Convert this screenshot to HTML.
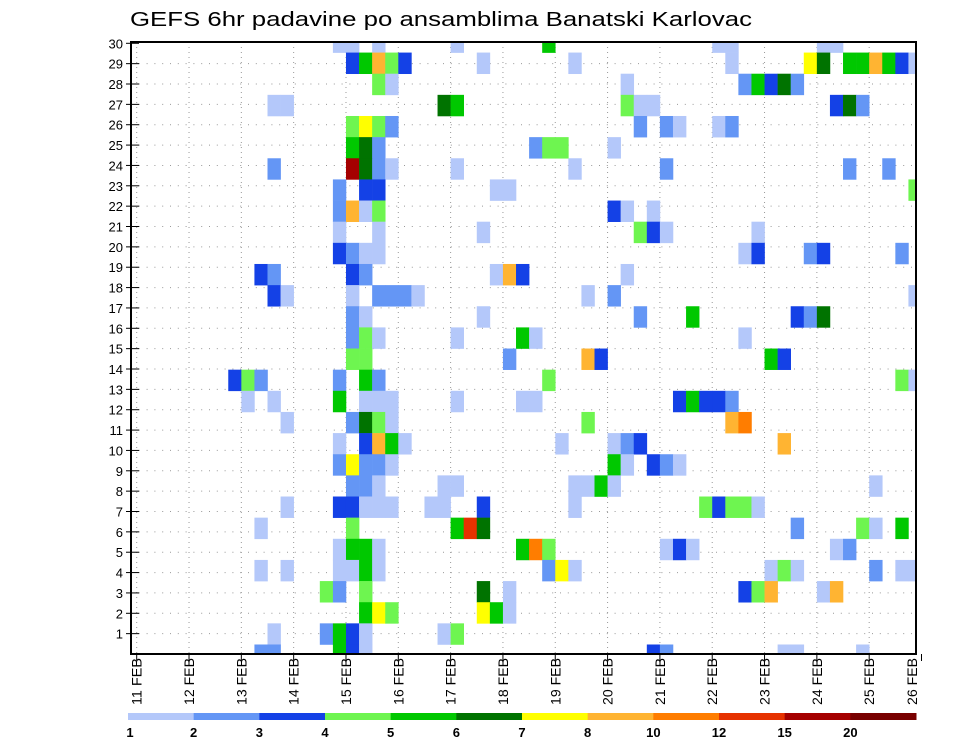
<!DOCTYPE html>
<html><head><meta charset="utf-8"><title>GEFS 6hr padavine</title>
<style>html,body{margin:0;padding:0;background:#fff;}svg{display:block;font-family:"Liberation Sans",sans-serif;}</style>
</head><body>
<svg id="chart" width="960" height="742" viewBox="0 0 960 742">
<rect x="0" y="0" width="960" height="742" fill="#fff"/>
<text x="130" y="26" font-size="20" textLength="622" lengthAdjust="spacingAndGlyphs" fill="#000">GEFS 6hr padavine po ansamblima Banatski Karlovac</text>
<defs><clipPath id="plotClip"><rect x="131" y="42" width="785" height="612"/></clipPath></defs>
<g id="grid"></g>
<g id="cells" clip-path="url(#plotClip)"></g>
<g id="axes"></g>
<g id="colorbar"></g>
</svg>
<script>
// ---- data ----
const dayLabels = ["11 FEB","12 FEB","13 FEB","14 FEB","15 FEB","16 FEB","17 FEB","18 FEB","19 FEB","20 FEB","21 FEB","22 FEB","23 FEB","24 FEB","25 FEB","26 FEB"];
const memberTicks = [1,2,3,4,5,6,7,8,9,10,11,12,13,14,15,16,17,18,19,20,21,22,23,24,25,26,27,28,29,30];
const levelBounds = [1,2,3,4,5,6,7,8,10,12,15,20];
const levelLabels = ["1","2","3","4","5","6","7","8","10","12","15","20"];
const levelColors = ["#b4c8fa","#6496f5","#1441e6","#6ef550","#00c800","#007300","#ffff00","#ffb432","#ff7d00","#e63200","#a50000","#780000"];
// [6h step from 11 FEB 00z, member, precipitation mm]
const precipCells = [
[15,30,1.5],[16,30,1.5],[18,30,1.5],[24,30,1.5],[31,30,5.5],[44,30,1.5],[45,30,1.5],[52,30,1.5],[53,30,1.5],
[16,29,3.5],[17,29,5.5],[18,29,9],[19,29,4.5],[20,29,3.5],[26,29,1.5],[33,29,1.5],[45,29,1.5],[51,29,7.5],[52,29,6.5],[54,29,5.5],[55,29,5.5],[56,29,9],[57,29,5.5],[58,29,3.5],[59,29,1.5],
[18,28,4.5],[19,28,1.5],[37,28,1.5],[46,28,2.5],[47,28,5.5],[48,28,3.5],[49,28,6.5],[50,28,2.5],
[10,27,1.5],[11,27,1.5],[23,27,6.5],[24,27,5.5],[37,27,4.5],[38,27,1.5],[39,27,1.5],[53,27,3.5],[54,27,6.5],[55,27,2.5],
[16,26,4.5],[17,26,7.5],[18,26,4.5],[19,26,2.5],[38,26,2.5],[40,26,2.5],[41,26,1.5],[44,26,1.5],[45,26,2.5],
[16,25,5.5],[17,25,6.5],[18,25,2.5],[30,25,2.5],[31,25,4.5],[32,25,4.5],[36,25,1.5],
[10,24,2.5],[16,24,17],[17,24,6.5],[18,24,2.5],[19,24,1.5],[24,24,1.5],[33,24,1.5],[40,24,2.5],[54,24,2.5],[57,24,2.5],
[15,23,2.5],[17,23,3.5],[18,23,3.5],[27,23,1.5],[28,23,1.5],[59,23,4.5],
[15,22,2.5],[16,22,9],[17,22,1.5],[18,22,4.5],[36,22,3.5],[37,22,1.5],[39,22,1.5],
[15,21,1.5],[18,21,1.5],[26,21,1.5],[38,21,4.5],[39,21,3.5],[40,21,1.5],[47,21,1.5],
[15,20,3.5],[16,20,2.5],[17,20,1.5],[18,20,1.5],[46,20,1.5],[47,20,3.5],[51,20,2.5],[52,20,3.5],[58,20,2.5],
[9,19,3.5],[10,19,2.5],[16,19,3.5],[17,19,2.5],[27,19,1.5],[28,19,9],[29,19,3.5],[37,19,1.5],
[10,18,3.5],[11,18,1.5],[16,18,1.5],[18,18,2.5],[19,18,2.5],[20,18,2.5],[21,18,1.5],[34,18,1.5],[36,18,2.5],[59,18,1.5],
[16,17,2.5],[17,17,1.5],[26,17,1.5],[38,17,2.5],[42,17,5.5],[50,17,3.5],[51,17,2.5],[52,17,6.5],
[16,16,2.5],[17,16,4.5],[18,16,1.5],[24,16,1.5],[29,16,5.5],[30,16,1.5],[46,16,1.5],
[16,15,4.5],[17,15,4.5],[28,15,2.5],[34,15,9],[35,15,3.5],[48,15,5.5],[49,15,3.5],
[7,14,3.5],[8,14,4.5],[9,14,2.5],[15,14,2.5],[17,14,5.5],[18,14,2.5],[31,14,4.5],[58,14,4.5],[59,14,1.5],
[8,13,1.5],[10,13,1.5],[15,13,5.5],[17,13,1.5],[18,13,1.5],[19,13,1.5],[24,13,1.5],[29,13,1.5],[30,13,1.5],[41,13,3.5],[42,13,5.5],[43,13,3.5],[44,13,3.5],[45,13,2.5],
[11,12,1.5],[16,12,2.5],[17,12,6.5],[18,12,4.5],[19,12,1.5],[34,12,4.5],[45,12,9],[46,12,11],
[15,11,1.5],[17,11,3.5],[18,11,9],[19,11,5.5],[20,11,1.5],[32,11,1.5],[36,11,1.5],[37,11,2.5],[38,11,3.5],[49,11,9],
[15,10,2.5],[16,10,7.5],[17,10,2.5],[18,10,2.5],[19,10,1.5],[36,10,5.5],[37,10,1.5],[39,10,3.5],[40,10,2.5],[41,10,1.5],
[16,9,2.5],[17,9,2.5],[18,9,1.5],[23,9,1.5],[24,9,1.5],[33,9,1.5],[34,9,1.5],[35,9,5.5],[36,9,1.5],[56,9,1.5],
[11,8,1.5],[15,8,3.5],[16,8,3.5],[17,8,1.5],[18,8,1.5],[19,8,1.5],[22,8,1.5],[23,8,1.5],[26,8,3.5],[33,8,1.5],[43,8,4.5],[44,8,3.5],[45,8,4.5],[46,8,4.5],[47,8,1.5],
[9,7,1.5],[16,7,4.5],[24,7,5.5],[25,7,13],[26,7,6.5],[50,7,2.5],[55,7,4.5],[56,7,1.5],[58,7,5.5],
[15,6,1.5],[16,6,5.5],[17,6,5.5],[18,6,1.5],[29,6,5.5],[30,6,11],[31,6,4.5],[40,6,1.5],[41,6,3.5],[42,6,1.5],[53,6,1.5],[54,6,2.5],
[9,5,1.5],[11,5,1.5],[15,5,1.5],[16,5,1.5],[17,5,5.5],[18,5,1.5],[31,5,2.5],[32,5,7.5],[33,5,1.5],[48,5,1.5],[49,5,4.5],[50,5,1.5],[56,5,2.5],[58,5,1.5],[59,5,1.5],
[14,4,4.5],[15,4,2.5],[17,4,4.5],[26,4,6.5],[28,4,1.5],[46,4,3.5],[47,4,4.5],[48,4,9],[52,4,1.5],[53,4,9],
[17,3,5.5],[18,3,7.5],[19,3,4.5],[26,3,7.5],[27,3,5.5],[28,3,1.5],
[10,2,1.5],[14,2,2.5],[15,2,5.5],[16,2,3.5],[17,2,1.5],[23,2,1.5],[24,2,4.5],
[9,1,2.5],[10,1,2.5],[15,1,5.5],[16,1,3.5],[17,1,1.5],[39,1,3.5],[40,1,2.5],[49,1,1.5],[50,1,1.5],[55,1,1.5]
];
// ---- scales ----
const NS = "http://www.w3.org/2000/svg";
const plotL = 131, plotR = 916, plotT = 42, plotB = 654;
const x0 = 136.7, stepW = 13.08;
function xStep(s){ return x0 + s*stepW; }
function xDay(d){ return xStep(d*4); }
function yAxis(n){ return plotB - n*(plotB-43.3)/30; }
const rowH = 21.14;
function yMemberCenter(m){ return 42 + (30-m)*rowH; }
function colorFor(v){ let i=0; for(let j=0;j<levelBounds.length;j++){ if(v>=levelBounds[j]) i=j; } return levelColors[i]; }
function mk(tag, attrs, parent){ const e=document.createElementNS(NS,tag); for(const k in attrs) e.setAttribute(k,attrs[k]); parent.appendChild(e); return e; }

const grid = document.getElementById('grid');
for(let d=0; d<dayLabels.length; d++){
  const x=xDay(d); if(x>plotR) continue;
  const l=mk('line',{x1:x,x2:x,y1:plotT,y2:plotB,stroke:'#999','stroke-width':1,'stroke-dasharray':'1,4'},grid);
  
  
}
for(let n=1;n<30;n++){
  const y=yAxis(n);
  const l=mk('line',{x1:plotL,x2:plotR,y1:y,y2:y,stroke:'#999','stroke-width':1,'stroke-dasharray':'1,6.8'},grid);
  
  
}

const cellsG=document.getElementById('cells');
precipCells.forEach(c=>{
  const r=mk('rect',{x:xStep(c[0]),y:yMemberCenter(c[1])-rowH/2,width:stepW+0.3,height:rowH+0.3,fill:colorFor(c[2])},cellsG);
  
  
});

const axes=document.getElementById('axes');
const frame=mk('rect',{x:plotL,y:plotT,width:plotR-plotL,height:plotB-plotT,fill:'none',stroke:'#000','stroke-width':2},axes);


memberTicks.forEach(n=>{
  const y=yAxis(n);
  const t=mk('line',{x1:126,x2:139,y1:y,y2:y,stroke:'#000','stroke-width':1},axes);
  
  
  const tx=mk('text',{x:123,y:y+5,'font-size':13,'text-anchor':'end',fill:'#000'},axes);
  tx.textContent=String(n);
  
  
});
dayLabels.forEach((lab,d)=>{
  const x=xDay(d);
  const t=mk('line',{x1:x,x2:x,y1:plotB,y2:plotB+7,stroke:'#000','stroke-width':1},axes);
  
  
  const bx=Math.min(x,912)+5;
  const tx=mk('text',{x:bx,y:658,'font-size':14,'text-anchor':'end',fill:'#000',transform:'rotate(-90 '+bx+' 658)',textLength:47,lengthAdjust:'spacingAndGlyphs'},axes);
  tx.textContent=lab;
  
  
});

const cb=document.getElementById('colorbar');
const cbL=128, cbW=(916-128)/levelColors.length;
levelColors.forEach((col,i)=>{
  const r=mk('rect',{x:cbL+i*cbW,y:713,width:cbW+0.5,height:7,fill:col},cb);
  
  
});
levelLabels.forEach((lab,i)=>{
  const tx=mk('text',{x:cbL+i*cbW+(i===0?2:0),y:737,'font-size':13,'font-weight':'bold','text-anchor':'middle',fill:'#000'},cb);
  tx.textContent=lab;
  
  
});
</script>
</body></html>
